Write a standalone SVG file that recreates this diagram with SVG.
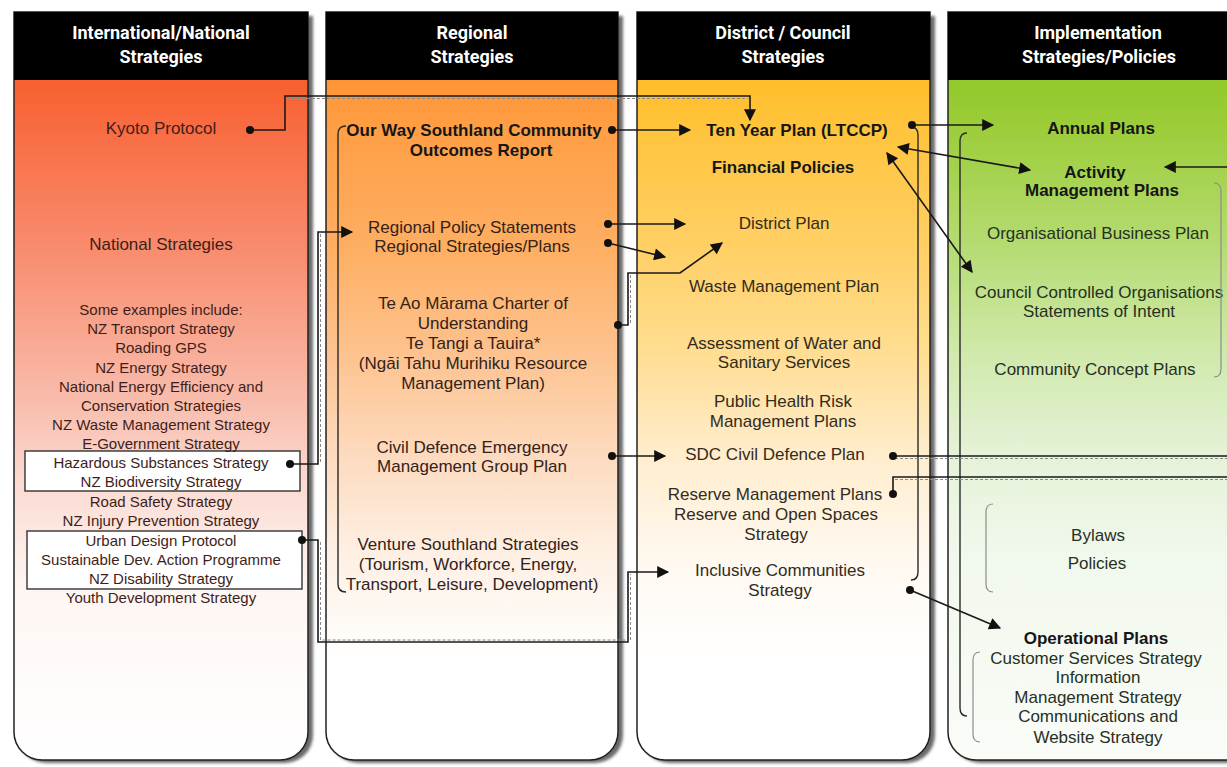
<svg xmlns="http://www.w3.org/2000/svg" width="1227" height="767" viewBox="0 0 1227 767">
<defs>
<style>
text{font-family:"Liberation Sans",Arial,sans-serif;text-anchor:middle}
.hd{font-family:Roboto,"Open Sans",sans-serif;font-weight:700;font-size:18px;fill:#fff}
.col{stroke:#222;stroke-width:1.5}
.shadow{fill:#6b6b6b;filter:url(#blur)}
.c1{fill:#3e1e1a;font-size:17px}
.l1{fill:#3e1e1a;font-size:15px}
.c2{fill:#33221a;font-size:17px}
.c3{fill:#332b1c;font-size:17px}
.c4{fill:#26301f;font-size:17px}
.b{font-weight:700;fill:#161616}
.ln{fill:none;stroke:#1a1a1a;stroke-width:1.6}
.dsh{fill:none;stroke:#8a8a8a;stroke-width:1;stroke-dasharray:3 2}
.br{fill:none;stroke:#2a2a2a;stroke-width:1.4}
.brl{fill:none;stroke:#8c8c8c;stroke-width:1.2}
.box{fill:#fff;stroke:#333;stroke-width:1.4}
</style>
<filter id="blur" x="-5%" y="-5%" width="110%" height="110%"><feGaussianBlur stdDeviation="1.5"/></filter>
<marker id="ah" viewBox="0 0 10 10" refX="9" refY="5" markerWidth="15" markerHeight="12" markerUnits="userSpaceOnUse" orient="auto-start-reverse"><path d="M0,0 L10,5 L0,10 z" fill="#111"/></marker>
<marker id="dt" viewBox="0 0 10 10" refX="5" refY="5" markerWidth="8" markerHeight="8" markerUnits="userSpaceOnUse"><circle cx="5" cy="5" r="5" fill="#111"/></marker>
<linearGradient id="g1" gradientUnits="userSpaceOnUse" x1="0" y1="80" x2="0" y2="760">
<stop offset="0" stop-color="#f8602e"/><stop offset="0.07" stop-color="#f86c42"/><stop offset="0.25" stop-color="#f88c6e"/><stop offset="0.47" stop-color="#f8bcac"/><stop offset="0.6" stop-color="#fbdcd3"/><stop offset="0.75" stop-color="#fef6f3"/><stop offset="1" stop-color="#ffffff"/>
</linearGradient>
<linearGradient id="g2" gradientUnits="userSpaceOnUse" x1="0" y1="80" x2="0" y2="760">
<stop offset="0" stop-color="#ff9535"/><stop offset="0.07" stop-color="#ff9e45"/><stop offset="0.25" stop-color="#feaf63"/><stop offset="0.4" stop-color="#fdc28e"/><stop offset="0.55" stop-color="#fddabe"/><stop offset="0.7" stop-color="#fef0e4"/><stop offset="0.85" stop-color="#ffffff"/><stop offset="1" stop-color="#ffffff"/>
</linearGradient>
<linearGradient id="g3" gradientUnits="userSpaceOnUse" x1="0" y1="80" x2="0" y2="760">
<stop offset="0" stop-color="#ffbd2a"/><stop offset="0.07" stop-color="#ffc43c"/><stop offset="0.25" stop-color="#ffd066"/><stop offset="0.4" stop-color="#ffdd92"/><stop offset="0.55" stop-color="#ffedcc"/><stop offset="0.7" stop-color="#fff8ef"/><stop offset="0.85" stop-color="#ffffff"/><stop offset="1" stop-color="#ffffff"/>
</linearGradient>
<linearGradient id="g4" gradientUnits="userSpaceOnUse" x1="0" y1="80" x2="0" y2="760">
<stop offset="0" stop-color="#93c92b"/><stop offset="0.07" stop-color="#9ccd3a"/><stop offset="0.25" stop-color="#b6dc74"/><stop offset="0.4" stop-color="#d0e9ab"/><stop offset="0.55" stop-color="#e5f2d8"/><stop offset="0.7" stop-color="#f1f8ec"/><stop offset="1" stop-color="#fafcf8"/>
</linearGradient>
</defs>
<rect width="1227" height="767" fill="#fff"/>

<g id="col1">
<path class="shadow" d="M18,16 H313 V735 A28,28 0 0 1 285,763 H46 A28,28 0 0 1 18,735 Z"/>
<path class="col" fill="url(#g1)" d="M14,12 H308 V732 A28,28 0 0 1 280,760 H42 A28,28 0 0 1 14,732 Z"/>
<rect x="14" y="12" width="294" height="68" fill="#000"/>
<text class="hd" x="161" y="39">International/National</text>
<text class="hd" x="161" y="63">Strategies</text>
<text class="c1" x="161" y="134">Kyoto Protocol</text>
<text class="c1" x="161" y="250">National Strategies</text>
<rect class="box" x="25" y="451" width="275" height="40"/>
<rect class="box" x="27" y="531" width="275" height="58"/>
<text class="l1" x="161" y="315">Some examples include:</text>
<text class="l1" x="161" y="334">NZ Transport Strategy</text>
<text class="l1" x="161" y="353">Roading GPS</text>
<text class="l1" x="161" y="373">NZ Energy Strategy</text>
<text class="l1" x="161" y="392">National Energy Efficiency and</text>
<text class="l1" x="161" y="411">Conservation Strategies</text>
<text class="l1" x="161" y="430">NZ Waste Management Strategy</text>
<text class="l1" x="161" y="449">E-Government Strategy</text>
<text class="l1" x="161" y="468">Hazardous Substances Strategy</text>
<text class="l1" x="161" y="487">NZ Biodiversity Strategy</text>
<text class="l1" x="161" y="507">Road Safety Strategy</text>
<text class="l1" x="161" y="526">NZ Injury Prevention Strategy</text>
<text class="l1" x="161" y="546">Urban Design Protocol</text>
<text class="l1" x="161" y="565">Sustainable Dev. Action Programme</text>
<text class="l1" x="161" y="584">NZ Disability Strategy</text>
<text class="l1" x="161" y="603">Youth Development Strategy</text>
</g>

<g id="col2">
<path class="shadow" d="M330,16 H623 V735 A28,28 0 0 1 595,763 H358 A28,28 0 0 1 330,735 Z"/>
<path class="col" fill="url(#g2)" d="M326,12 H618 V732 A28,28 0 0 1 590,760 H354 A28,28 0 0 1 326,732 Z"/>
<rect x="326" y="12" width="292" height="68" fill="#000"/>
<text class="hd" x="472" y="39">Regional</text>
<text class="hd" x="472" y="63">Strategies</text>
<text class="c2 b" x="474" y="136">Our Way Southland Community</text>
<text class="c2 b" x="481" y="156">Outcomes Report</text>
<text class="c2" x="472" y="233">Regional Policy Statements</text>
<text class="c2" x="472" y="252">Regional Strategies/Plans</text>
<text class="c2" x="473" y="309">Te Ao Mārama Charter of</text>
<text class="c2" x="473" y="329">Understanding</text>
<text class="c2" x="473" y="349">Te Tangi a Tauira*</text>
<text class="c2" x="473" y="369">(Ngāi Tahu Murihiku Resource</text>
<text class="c2" x="473" y="389">Management Plan)</text>
<text class="c2" x="472" y="453">Civil Defence Emergency</text>
<text class="c2" x="472" y="472">Management Group Plan</text>
<text class="c2" x="468" y="550">Venture Southland Strategies</text>
<text class="c2" x="468" y="570">(Tourism, Workforce, Energy,</text>
<text class="c2" x="472" y="590">Transport, Leisure, Development)</text>
</g>

<g id="col3">
<path class="shadow" d="M641,16 H935 V735 A28,28 0 0 1 907,763 H669 A28,28 0 0 1 641,735 Z"/>
<path class="col" fill="url(#g3)" d="M637,12 H930 V732 A28,28 0 0 1 902,760 H665 A28,28 0 0 1 637,732 Z"/>
<rect x="637" y="12" width="293" height="68" fill="#000"/>
<text class="hd" x="783" y="39">District / Council</text>
<text class="hd" x="783" y="63">Strategies</text>
<text class="c3 b" x="797" y="136">Ten Year Plan (LTCCP)</text>
<text class="c3 b" x="783" y="173">Financial Policies</text>
<text class="c3" x="784" y="229">District Plan</text>
<text class="c3" x="784" y="292">Waste Management Plan</text>
<text class="c3" x="784" y="349">Assessment of Water and</text>
<text class="c3" x="784" y="368">Sanitary Services</text>
<text class="c3" x="783" y="407">Public Health Risk</text>
<text class="c3" x="783" y="427">Management Plans</text>
<text class="c3" x="775" y="460">SDC Civil Defence Plan</text>
<text class="c3" x="775" y="500">Reserve Management Plans</text>
<text class="c3" x="776" y="520">Reserve and Open Spaces</text>
<text class="c3" x="776" y="540">Strategy</text>
<text class="c3" x="780" y="576">Inclusive Communities</text>
<text class="c3" x="780" y="596">Strategy</text>
</g>

<g id="col4">
<path class="shadow" d="M952,16 H1240 V763 H980 A28,28 0 0 1 952,735 Z"/>
<path class="col" fill="url(#g4)" d="M948,12 H1240 V760 H976 A28,28 0 0 1 948,732 Z"/>
<rect x="948" y="12" width="292" height="68" fill="#000"/>
<text class="hd" x="1098" y="39">Implementation</text>
<text class="hd" x="1099" y="63">Strategies/Policies</text>
<text class="c4 b" x="1101" y="134">Annual Plans</text>
<text class="c4 b" x="1095" y="178">Activity</text>
<text class="c4 b" x="1102" y="196">Management Plans</text>
<text class="c4" x="1098" y="239">Organisational Business Plan</text>
<text class="c4" x="1099" y="298">Council Controlled Organisations</text>
<text class="c4" x="1099" y="317">Statements of Intent</text>
<text class="c4" x="1095" y="375">Community Concept Plans</text>
<text class="c4" x="1098" y="541">Bylaws</text>
<text class="c4" x="1097" y="569">Policies</text>
<text class="c4 b" x="1096" y="644">Operational Plans</text>
<text class="c4" x="1096" y="664">Customer Services Strategy</text>
<text class="c4" x="1098" y="683">Information</text>
<text class="c4" x="1098" y="703">Management Strategy</text>
<text class="c4" x="1098" y="722">Communications and</text>
<text class="c4" x="1098" y="743">Website Strategy</text>
</g>

<g id="brackets">
<path class="br" d="M346,126 Q338,126 338,134 V584 Q338,592 346,592"/>
<path class="br" d="M911,127 Q918,127 918,135 V572 Q918,580 911,580"/>
<path class="br" d="M967,133 Q960,133 960,141 V708 Q960,716 967,716"/>
<path class="brl" d="M1214,183 Q1221,183 1221,191 V369 Q1221,377 1214,377"/>
<path class="brl" d="M993,504 Q986,504 986,512 V584 Q986,592 993,592"/>
<path class="brl" d="M980,652 Q973,652 973,660 V734 Q973,742 980,742"/>
</g>

<g id="connectors">
<path class="dsh" d="M287,98.5 H748"/>
<path class="dsh" d="M320.5,462 V234"/>
<path class="dsh" d="M320.5,542 V640 H626"/>
<path class="dsh" d="M630.5,323 V275"/>
<path class="dsh" d="M630.5,640 V574"/>
<path class="dsh" d="M895,458.5 H1227"/>
<path class="dsh" d="M895,479.5 H1227"/>
<path class="ln" d="M250,130 H285 V96 H750 V120" marker-start="url(#dt)" marker-end="url(#ah)"/>
<path class="ln" d="M612,130 H690" marker-start="url(#dt)" marker-end="url(#ah)"/>
<path class="ln" d="M608,224 H685" marker-start="url(#dt)" marker-end="url(#ah)"/>
<path class="ln" d="M608,243 L665,257" marker-start="url(#dt)" marker-end="url(#ah)"/>
<path class="ln" d="M618,325 H628 V273 H680 L722,243" marker-start="url(#dt)" marker-end="url(#ah)"/>
<path class="ln" d="M612,456 H665" marker-start="url(#dt)" marker-end="url(#ah)"/>
<path class="ln" d="M290,464 H318 V232 H352" marker-start="url(#dt)" marker-end="url(#ah)"/>
<path class="ln" d="M302,540 H318 V642 H628 V572 H668" marker-start="url(#dt)" marker-end="url(#ah)"/>
<path class="ln" d="M912,125 H993" marker-start="url(#dt)" marker-end="url(#ah)"/>
<path class="ln" d="M898,147 L1030,170" marker-start="url(#ah)" marker-end="url(#ah)"/>
<path class="ln" d="M887,153 L972,272" marker-start="url(#ah)" marker-end="url(#ah)"/>
<path class="ln" d="M1240,167 H1165" marker-end="url(#ah)"/>
<path class="ln" d="M893,456 H1240" marker-start="url(#dt)"/>
<path class="ln" d="M893,494 V477 H1240" marker-start="url(#dt)"/>
<path class="ln" d="M910,590 L1000,628" marker-start="url(#dt)" marker-end="url(#ah)"/>
</g>
</svg>
